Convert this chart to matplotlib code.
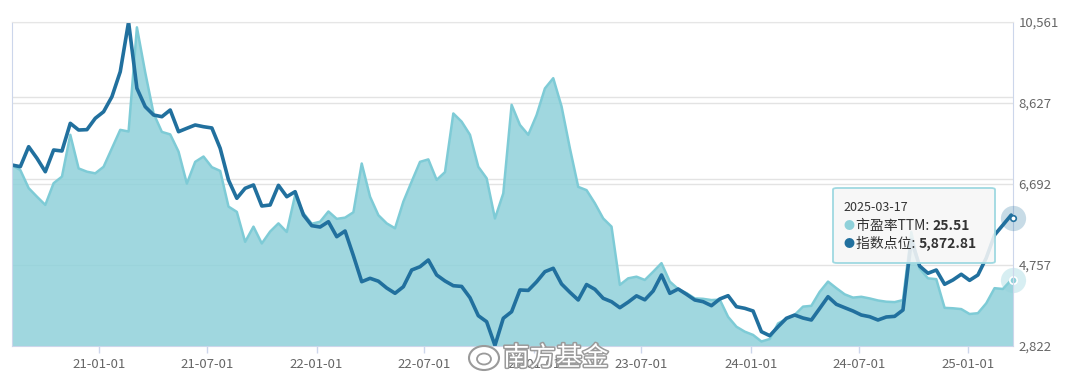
import numpy as np
import pandas as pd
import matplotlib
matplotlib.use('Agg')
import matplotlib.pyplot as plt
import matplotlib.dates as mdates
import matplotlib.patheffects as path_effects
from matplotlib.ticker import FuncFormatter
from matplotlib.patches import FancyBboxPatch, Ellipse
from matplotlib.text import Annotation

plt.rcParams['font.family'] = ['Noto Sans CJK SC', 'DejaVu Sans']

# biweekly samples, last point is the latest trading day
dates = list(pd.date_range('2020-08-07', '2025-03-14', freq='14D')) + [pd.Timestamp('2025-03-17')]

index_level = [
    7145, 7105, 7583, 7305, 6985, 7504, 7480, 8141, 7981, 7990,
    8261, 8418, 8777, 9374, 10561, 8977, 8538, 8340, 8299, 8459,
    7941, 8022, 8101, 8060, 8030, 7544, 6787, 6350, 6589, 6668,
    6166, 6190, 6660, 6388, 6508, 5951, 5696, 5664, 5791, 5433,
    5569, 4979, 4358, 4439, 4370, 4207, 4081, 4238, 4637, 4716,
    4876, 4518, 4375, 4262, 4245, 3976, 3546, 3402, 2835, 3484,
    3641, 4160, 4150, 4355, 4597, 4678, 4303, 4105, 3921, 4290,
    4176, 3961, 3880, 3737, 3870, 4020, 3925, 4136, 4518, 4080,
    4184, 4057, 3921, 3880, 3785, 3945, 4024, 3761, 3722, 3658,
    3164, 3068, 3283, 3484, 3562, 3490, 3443, 3720, 4000, 3818,
    3737, 3658, 3562, 3522, 3443, 3515, 3530, 3682, 5354, 4733,
    4559, 4637, 4296, 4399, 4535, 4390, 4518, 4924, 5473, 5712,
    5950, 5872.81,
]

pe_ttm = [
    53.4, 52.2, 47.8, 45.7, 43.7, 49.0, 50.6, 60.8, 52.6, 51.8,
    51.4, 53.0, 57.5, 62.0, 61.6, 87.0, 76.0, 66.0, 61.5, 60.9,
    56.7, 48.9, 54.2, 55.5, 52.9, 52.0, 43.3, 42.0, 34.7, 38.4,
    34.3, 37.2, 39.2, 37.1, 46.1, 41.7, 39.1, 39.6, 42.1, 40.3,
    40.6, 41.9, 53.8, 45.7, 41.2, 39.2, 38.0, 44.5, 49.4, 54.2,
    54.8, 49.8, 51.7, 66.0, 64.0, 60.8, 53.0, 50.2, 40.4, 46.5,
    68.1, 63.2, 60.8, 65.6, 72.1, 74.6, 67.7, 57.5, 48.1, 47.3,
    44.1, 40.4, 38.4, 24.2, 25.8, 26.2, 25.4, 27.4, 29.5, 25.0,
    23.2, 22.2, 20.9, 20.8, 20.5, 20.6, 16.4, 14.0, 12.8, 12.0,
    10.4, 11.0, 14.8, 15.9, 16.9, 18.9, 19.1, 22.5, 25.0, 23.4,
    21.9, 21.1, 21.3, 20.9, 20.4, 20.1, 20.0, 20.5, 37.1, 28.2,
    25.8, 25.6, 18.6, 18.5, 18.3, 17.1, 17.3, 19.7, 23.4, 23.2,
    25.4, 25.51,
]

index_ticks = [2822, 4757, 6692, 8627, 10561]
pe_grid = [50, 70]
x_ticks = ['2021-01-01', '2021-07-01', '2022-01-01', '2022-07-01',
           '2023-01-01', '2023-07-01', '2024-01-01', '2024-07-01', '2025-01-01']

DARK = '#21709e'
LIGHT = '#8fd1da'
LIGHT_EDGE = '#7ecbd6'

W, H = 1080, 386
fig = plt.figure(figsize=(W / 100, H / 100), dpi=100)


def fx(x):
    return x / W


def fy(y):
    return 1 - y / H


pos = [fx(12), fy(346), fx(1013) - fx(12), fy(22) - fy(346)]

# bottom axes: index scale, grid, labels
ax_idx = fig.add_axes(pos)
ax_idx.set_zorder(0)
ax_idx.set_ylim(2822, 10561)
ax_idx.set_xlim(dates[0], dates[-1])
ax_idx.set_yticks(index_ticks)
ax_idx.yaxis.tick_right()
ax_idx.yaxis.set_major_formatter(FuncFormatter(lambda v, _: f'{v:,.0f}'))
ax_idx.tick_params(axis='y', length=0, pad=4, labelsize=9.5, labelcolor='#666666')
ax_idx.set_xticks(pd.to_datetime(x_ticks))
ax_idx.xaxis.set_major_formatter(mdates.DateFormatter('%y-%m-%d'))
ax_idx.tick_params(axis='x', length=5, width=1, color='#ccd6eb', pad=4,
                   labelsize=9.5, labelcolor='#666666')
ax_idx.grid(axis='y', color='#e3e3e3', lw=1)
ax_idx.grid(axis='x', visible=False)
for s in ax_idx.spines.values():
    s.set_visible(False)

# middle axes: PE area
ax_pe = fig.add_axes(pos, sharex=ax_idx)
ax_pe.set_zorder(1)
ax_pe.patch.set_visible(False)
ax_pe.set_ylim(9.3, 88.3)
ax_pe.set_yticks(pe_grid)
ax_pe.set_axisbelow(True)
ax_pe.grid(axis='y', color='#e3e3e3', lw=1)
ax_pe.tick_params(left=False, labelleft=False, bottom=False, labelbottom=False)
for s in ax_pe.spines.values():
    s.set_visible(False)
ax_pe.fill_between(dates, pe_ttm, 0, color=LIGHT, alpha=0.85, lw=0)
ax_pe.plot(dates, pe_ttm, color=LIGHT_EDGE, lw=1.8, solid_joinstyle='round')
ax_pe.scatter([dates[-1]], [pe_ttm[-1]], s=330, color=LIGHT, alpha=0.35, lw=0,
              clip_on=False, zorder=5)
ax_pe.scatter([dates[-1]], [pe_ttm[-1]], s=28, facecolor=LIGHT, edgecolor='white',
              lw=1.2, clip_on=False, zorder=6)

# top axes: index line and frame
ax_line = fig.add_axes(pos, sharex=ax_idx, sharey=ax_idx)
ax_line.set_zorder(2)
ax_line.patch.set_visible(False)
ax_line.tick_params(left=False, labelleft=False, bottom=False, labelbottom=False,
                    right=False, labelright=False)
ax_line.grid(False)
ax_line.spines['top'].set_color('#e6e6e6')
ax_line.spines['right'].set_color('#ccd6eb')
ax_line.spines['left'].set_color('#ccd6eb')
ax_line.spines['bottom'].set_color('#ccd6eb')
ax_line.plot(dates, index_level, color=DARK, lw=2.6, solid_joinstyle='round')
ax_line.scatter([dates[-1]], [index_level[-1]], s=330, color=DARK, alpha=0.25, lw=0,
                clip_on=False, zorder=5)
ax_line.scatter([dates[-1]], [index_level[-1]], s=16, facecolor='white', edgecolor=DARK,
                lw=1.2, clip_on=False, zorder=6)

# tooltip
box = FancyBboxPatch((fx(833), fy(263)), fx(995) - fx(833), fy(188) - fy(263),
                     boxstyle='round,pad=0,rounding_size=0.004',
                     transform=fig.transFigure, facecolor=(0.97, 0.97, 0.97, 0.88),
                     edgecolor='#9fd9e1', lw=1.3, zorder=10)
fig.patches.append(box)

fig.text(fx(843), fy(207.5), dates[-1].strftime('%Y-%m-%d'), fontsize=9,
         color='#333333', va='center', zorder=11)
rows = [(LIGHT, '市盈率TTM: ', f'{pe_ttm[-1]:.2f}', 226),
        (DARK, '指数点位: ', f'{index_level[-1]:,.2f}', 244)]
for col, label, val, y in rows:
    fig.text(fx(843), fy(y), '●', fontsize=8, color=col, va='center', zorder=11)
    t = fig.text(fx(856), fy(y), label, fontsize=10, color='#333333', va='center', zorder=11)
    a = Annotation(val, xy=(1, 0.5), xycoords=t, va='center', ha='left',
                   fontsize=10, fontweight='bold', color='#333333')
    a.set_zorder(11)
    fig.add_artist(a)

# watermark
logo = Ellipse((fx(484), fy(358)), fx(30), 24 / H, transform=fig.transFigure,
               facecolor='white', edgecolor='#9a9a9a', lw=1.5, zorder=12)
fig.patches.append(logo)
logo2 = Ellipse((fx(484), fy(359)), fx(14), 11 / H, transform=fig.transFigure,
                facecolor='none', edgecolor='#9a9a9a', lw=1.3, zorder=12)
fig.patches.append(logo2)
wm = fig.text(fx(503), fy(358), '南方基金', fontsize=19, color='white', va='center',
              zorder=12)
wm.set_path_effects([path_effects.withStroke(linewidth=2.2, foreground='#9a9a9a')])

fig.savefig('out.png', dpi=100)
